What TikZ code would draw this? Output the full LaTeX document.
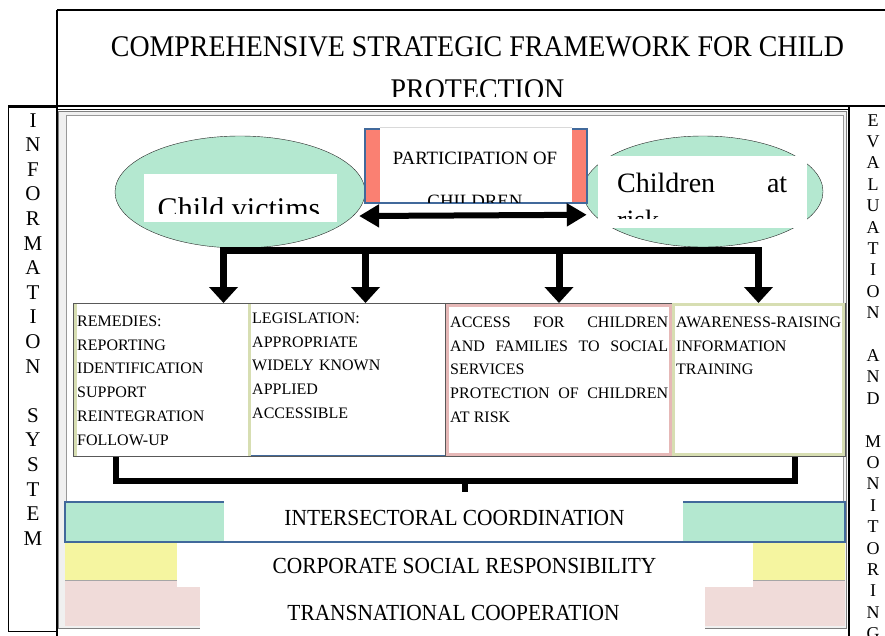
\documentclass[tikz,border=0pt]{standalone}
\usepackage{fontspec}
\setmainfont{Liberation Serif}
\newfontfamily\narrowserif[FakeStretch=0.93]{Liberation Serif}
\usetikzlibrary{shapes.geometric,arrows.meta,positioning}

\definecolor{mint}{RGB}{180,232,208}
\definecolor{paleyellow}{RGB}{245,245,160}
\definecolor{palepink}{RGB}{240,219,217}
\definecolor{salmon}{RGB}{250,128,114}
\definecolor{steelblue}{RGB}{65,105,155}
\definecolor{rosebox}{RGB}{230,184,183}
\definecolor{olivebox}{RGB}{215,222,178}
\definecolor{framegray}{RGB}{240,240,240}

\tikzset{
  blob/.style={ellipse, draw=black!85, fill=mint, inner sep=0pt},
  box/.style={rectangle, draw=black!65, outer sep=0pt, inner sep=0pt, minimum height=153pt},
  boxtext/.style={anchor=north west, inner sep=0pt, align=left, font=\fontsize{16}{23.8}\selectfont},
  bandtext/.style={anchor=base, inner sep=0pt, font=\narrowserif\fontsize{23}{27}\selectfont},
  sideletter/.style={anchor=base, inner sep=0pt},
  busline/.style={line width=7pt},
  droparrow/.style={line width=7pt, -{Triangle[width=28pt,length=16pt]}},
  pairarrow/.style={line width=6pt, {Triangle[width=22pt,length=20pt]}-{Triangle[width=22pt,length=20pt]}},
  bracket/.style={line width=5.5pt, line join=miter},
}

\begin{document}
\begin{tikzpicture}[x=1pt, y=-1pt, node distance=0pt, on grid]
\useasboundingbox (0,0) rectangle (885,635);
\clip (0,0) rectangle (885,635);

% outer frame
\draw[line width=1.5pt] (57,10) -- (885,10);
\draw[line width=1.5pt] (57,10) -- (57,640);
\draw[line width=1.2pt] (8,106) -- (885,106);
\draw (8,107) rectangle (57,631);
\draw[line width=1.2pt] (849,106) -- (849,640);
\draw (57,109.5) -- (849,109.5);
\draw[draw=black!50, fill=framegray] (58,111) rectangle (846,628);
\draw[draw=black!40, fill=white] (66,115) rectangle (843,625);

% title
\begin{scope}
  \clip (57,10) rectangle (885,96.5);
  \node[anchor=north, align=center, inner sep=0pt, font=\narrowserif\fontsize{30}{43}\selectfont]
    (title) at (477.5,36) {COMPREHENSIVE STRATEGIC FRAMEWORK FOR CHILD\\PROTECTION};
\end{scope}

% side columns
\foreach \ch [count=\i] in {I,N,F,O,R,M,A,T,I,O,N,,S,Y,S,T,E,M}
  \node[sideletter, font=\fontsize{21}{25}\selectfont] (info\i) at (33,{127+24.6*(\i-1)}) {\ch};
\foreach \ch [count=\i] in {E,V,A,L,U,A,T,I,O,N,,A,N,D,,M,O,N,I,T,O,R,I,N,G}
  \node[sideletter, font=\fontsize{18}{22}\selectfont] (eval\i) at (873,{126+21.4*(\i-1)}) {\ch};

% target groups
\node[blob, minimum width=250pt, minimum height=112pt] (victims) at (240,192) {};
\fill[white] (144,174) rectangle (337,222);
\begin{scope}
  \clip (144,174) rectangle (337,213);
  \node[anchor=base, inner sep=0pt, font=\fontsize{30}{36}\selectfont] (victimstext) at (239,218) {Child victims};
\end{scope}

\node[blob, minimum width=240pt, minimum height=111pt] (risk) at (703,191.5) {};
\fill[white] (598,156) rectangle (807,228);
\begin{scope}
  \clip (598,156) rectangle (807,218);
  \node[anchor=north west, inner sep=0pt, text width=170pt, align=justify, font=\fontsize{28}{37}\selectfont]
    (risktext) at (617,173) {Children at\linebreak risk};
\end{scope}

\node[rectangle, draw=steelblue, line width=1.5pt, fill=salmon, minimum width=222pt, minimum height=74pt] (participation) at (476,166) {};
\fill[white] (380,127.5) rectangle (572,202);
\draw[black!15] (380,127.5) -- (572,127.5);
\begin{scope}
  \clip (380,128) rectangle (572,202);
  \node[anchor=north, align=center, inner sep=0pt, font=\fontsize{18.8}{43}\selectfont]
    (participationtext) at (475,152) {PARTICIPATION OF\\CHILDREN};
\end{scope}

\draw[pairarrow, shorten <=6pt, shorten >=7pt] (victims.-12) -- (risk.192);

% measures
\node[box, minimum width=175pt] (remedies) at (160.5,379.5) {};
\node[box, minimum width=197pt, right=186pt of remedies] (legislation) {};
\node[box, minimum width=227pt, right=212pt of legislation] (access) {};
\node[box, minimum width=173pt, right=200pt of access] (awareness) {};
\fill[olivebox] (73.5,303.5) rectangle (77,455.5);
\fill[olivebox] (248,303.5) rectangle (251,455.5);
\draw[steelblue] (251,455.5) -- (445,455.5);
\draw[rosebox, line width=3pt] (447,305) rectangle (670,454);
\draw[olivebox, line width=2.5pt] (673.5,304.5) rectangle (843.5,454.5);

\node[boxtext, text width=168pt] (remediestext) at ([shift={(4pt,-12.5pt)}]remedies.north west)
  {REMEDIES:\\REPORTING\\IDENTIFICATION\\SUPPORT\\REINTEGRATION\\FOLLOW-UP};
\node[boxtext, text width=190pt] (legislationtext) at ([shift={(4pt,-9.5pt)}]legislation.north west)
  {LEGISLATION:\\APPROPRIATE\\WIDELY KNOWN\\APPLIED\\ACCESSIBLE};
\node[boxtext, text width=218pt, align=justify] (accesstext) at ([shift={(5pt,-13.5pt)}]access.north west)
  {ACCESS FOR CHILDREN\linebreak AND FAMILIES TO SOCIAL\linebreak SERVICES\\PROTECTION OF CHILDREN\linebreak AT RISK};
\node[boxtext, text width=172pt] (awarenesstext) at ([shift={(4pt,-13.5pt)}]awareness.north west)
  {AWARENESS-RAISING\\INFORMATION\\TRAINING};

% distribution bus
\coordinate (busA) at (223.5,250);
\coordinate (busB) at (365.5,250);
\coordinate (busC) at (559,250);
\coordinate (busD) at (758.5,250);
\draw[busline] ([xshift=-3.5pt]busA) -- ([xshift=3.5pt]busD);
\draw[droparrow] (busA) -- (busA |- remedies.north);
\draw[droparrow] (busB) -- (busB |- legislation.north);
\draw[droparrow] (busC) -- (busC |- access.north);
\draw[droparrow] (busD) -- (busD |- awareness.north);

% bracket
\coordinate (brL) at (116,457);
\coordinate (brR) at (795,457);
\coordinate (brM) at (465,481);
\draw[bracket] (brL) -- ++(0,24) -| (brR);
\draw[bracket] (brM) -- ++(0,11);

% cross-cutting bands
\fill[palepink] (65,580) rectangle (845,626);
\fill[paleyellow] (65,542) rectangle (845,580);
\draw[black!35] (65,580) -- (845,580);
\draw[steelblue, line width=1.5pt, fill=mint] (65,502) rectangle (845,542);
\fill[white] (200,587) rectangle (705,630);
\fill[white] (177,543) rectangle (753,587);
\fill[white] (224,500) rectangle (683,541);
\node[bandtext] (intersectoral) at (454.5,525.5) {INTERSECTORAL COORDINATION};
\node[bandtext] (corporate) at (464.5,573.5) {CORPORATE SOCIAL RESPONSIBILITY};
\node[bandtext] (transnational) at (453.5,620.5) {TRANSNATIONAL COOPERATION};
\end{tikzpicture}
\end{document}
